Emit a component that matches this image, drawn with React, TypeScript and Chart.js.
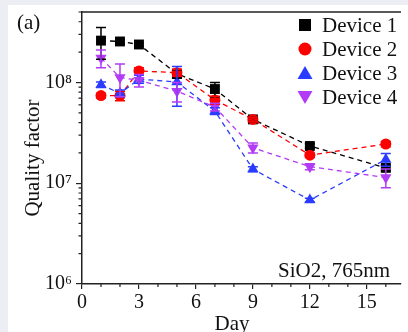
import React, { useEffect, useRef } from 'react';
import { Chart, registerables } from 'chart.js';

Chart.register(...registerables);

const days = [1, 2, 3, 5, 7, 9, 12, 16];
const seriesNames = ['Device 1', 'Device 2', 'Device 3', 'Device 4'];
const device1 = [2.6e8, 2.55e8, 2.38e8, 1.22e8, 8.6e7, 4.3e7, 2.34e7, 1.42e7];
const device2 = [7.4e7, 7.4e7, 1.3e8, 1.25e8, 6.7e7, 4.3e7, 1.9e7, 2.45e7];
const device3 = [9.5e7, 7.8e7, 1.08e8, 1.01e8, 5.2e7, 1.38e7, 6.8e6, 1.72e7];
const device4 = [1.75e8, 1.12e8, 1.05e8, 8.2e7, 5.7e7, 2.25e7, 1.46e7, 1.14e7];
const device1Err = [9e7, 1e7, 8e6, 1.2e7, 1.4e7, 2e6, 1.2e6, 1e6];
const device2Err = [4e6, 8e6, 1e7, 1e7, 6e6, 2e6, 1e6, 1.5e6];
const device3Err = [6e6, 6e6, 1e7, 4.3e7, 4e6, 8e5, 3e5, 2.5e6];
const device4Err = [3.5e7, 4e7, 1.5e7, 1.8e7, 5e6, 2.5e6, 1e6, 2.4e6];
const xTicks = [0, 3, 6, 9, 12, 15];
const xMinorTicks = [1, 2, 4, 5, 7, 8, 10, 11, 13, 14, 16];
const yTicks = [1e6, 1e7, 1e8];
const yTickLabels = ['10\u2076', '10\u2077', '10\u2078'];
const xTitle = 'Day';
const yTitle = 'Quality factor';
const panelLabel = '(a)';
const noteText = 'SiO2, 765nm';

const colors = ['#000000', '#ff0000', '#2a3cff', '#b23cf5'];
const shapes = ['rect', 'circle', 'triangle', 'triangle'];
const rotations = [0, 0, 0, 180];
const radii = [7, 5.5, 6.5, 6.5];
const values = [device1, device2, device3, device4];
const errors = [device1Err, device2Err, device3Err, device4Err];

const FONT = "'Liberation Serif', 'Times New Roman', Times, serif";

function drawMarker(ctx: CanvasRenderingContext2D, kind: number, x: number, y: number) {
  ctx.beginPath();
  if (kind === 0) {
    ctx.rect(x - 6, y - 6, 12, 12);
  } else if (kind === 1) {
    ctx.arc(x, y, 6.5, 0, Math.PI * 2);
  } else if (kind === 2) {
    ctx.moveTo(x, y - 7);
    ctx.lineTo(x + 7.5, y + 6);
    ctx.lineTo(x - 7.5, y + 6);
    ctx.closePath();
  } else {
    ctx.moveTo(x, y + 7);
    ctx.lineTo(x + 7.5, y - 6);
    ctx.lineTo(x - 7.5, y - 6);
    ctx.closePath();
  }
  ctx.fill();
}

const decorPlugin = {
  id: 'decor',
  afterDatasetsDraw(chart: any) {
    const ctx = chart.ctx;
    const xs = chart.scales.x;
    const ys = chart.scales.y;
    ctx.save();
    for (let i = 0; i < values.length; i++) {
      ctx.strokeStyle = colors[i];
      ctx.lineWidth = 1.5;
      ctx.setLineDash([]);
      for (let j = 0; j < days.length; j++) {
        const x = xs.getPixelForValue(days[j]);
        const yt = ys.getPixelForValue(values[i][j] + errors[i][j]);
        const yb = ys.getPixelForValue(values[i][j] - errors[i][j]);
        ctx.beginPath();
        ctx.moveTo(x, yt);
        ctx.lineTo(x, yb);
        ctx.moveTo(x - 5, yt);
        ctx.lineTo(x + 5, yt);
        ctx.moveTo(x - 5, yb);
        ctx.lineTo(x + 5, yb);
        ctx.stroke();
      }
    }
    ctx.restore();
  },
  afterDraw(chart: any) {
    const ctx = chart.ctx;
    const a = chart.chartArea;
    const xs = chart.scales.x;
    const ys = chart.scales.y;
    ctx.save();
    ctx.strokeStyle = '#222';
    ctx.lineWidth = 1.5;
    // top frame
    ctx.beginPath();
    ctx.moveTo(a.left, a.top);
    ctx.lineTo(a.right, a.top);
    ctx.stroke();
    // minor x ticks
    ctx.lineWidth = 1.2;
    ctx.beginPath();
    for (const d of xMinorTicks) {
      const x = xs.getPixelForValue(d);
      ctx.moveTo(x, a.bottom);
      ctx.lineTo(x, a.bottom + 3);
    }
    // minor y ticks
    for (const dec of [1e6, 1e7, 1e8]) {
      for (let m = 2; m <= 9; m++) {
        const v = m * dec;
        if (v > ys.max) break;
        const y = ys.getPixelForValue(v);
        ctx.moveTo(a.left - 3.5, y);
        ctx.lineTo(a.left, y);
      }
    }
    ctx.stroke();

    // legend
    ctx.font = `21px ${FONT}`;
    ctx.textBaseline = 'middle';
    ctx.textAlign = 'left';
    for (let i = 0; i < seriesNames.length; i++) {
      const y = a.top + 13 + i * 24;
      ctx.fillStyle = colors[i];
      drawMarker(ctx, i, a.right - 96, y);
      ctx.fillStyle = '#111';
      ctx.fillText(seriesNames[i], a.right - 79, y + 1);
    }

    // annotation
    ctx.textBaseline = 'alphabetic';
    ctx.textAlign = 'right';
    ctx.fillText(noteText, a.right - 11, a.bottom - 7);

    // panel label
    ctx.textAlign = 'left';
    ctx.fillText(panelLabel, 9, 24);

    // x title
    ctx.textAlign = 'center';
    ctx.fillText(xTitle, 224, 325);

    // y title
    ctx.translate(25, 153);
    ctx.rotate(-Math.PI / 2);
    ctx.textBaseline = 'middle';
    ctx.fillText(yTitle, 0, 0);
    ctx.restore();
  },
};

export default function App() {
  const ref = useRef<HTMLCanvasElement | null>(null);
  useEffect(() => {
    document.body.style.margin = '5px 0 0 8px';
    document.body.style.background = '#eceef3';
    document.documentElement.style.overflow = 'hidden';
    const canvas = ref.current!;
    const chart = new Chart(canvas, {
      type: 'line',
      data: {
        datasets: seriesNames.map((name, i) => ({
          label: name,
          data: days.map((d, j) => ({ x: d, y: values[i][j] })),
          borderColor: colors[i],
          backgroundColor: colors[i],
          borderWidth: 1.3,
          borderDash: [5, 4],
          pointStyle: shapes[i] as any,
          pointRotation: rotations[i],
          pointRadius: radii[i],
          pointBorderWidth: 0,
          pointBackgroundColor: colors[i],
          pointBorderColor: colors[i],
          tension: 0,
          order: 4 - i,
        })),
      },
      options: {
        animation: false,
        responsive: false,
        devicePixelRatio: 1,
        layout: { padding: { top: 7, right: 0, left: 0, bottom: 0 } },
        plugins: { legend: { display: false }, tooltip: { enabled: false } },
        scales: {
          x: {
            type: 'linear',
            min: 0,
            max: 16.8,
            afterBuildTicks: (s: any) => {
              s.ticks = xTicks.map((v) => ({ value: v }));
            },
            afterFit: (s: any) => {
              s.height = 48;
              s.paddingLeft = 0;
              s.paddingRight = 0;
            },
            grid: { drawOnChartArea: false, drawTicks: true, tickLength: 5, color: '#222', lineWidth: 1.2 },
            border: { display: true, color: '#222', width: 1.5 },
            ticks: {
              color: '#111',
              padding: 2,
              font: { family: FONT, size: 20 },
              maxRotation: 0,
              callback: (v: any) => String(v),
            },
          },
          y: {
            type: 'logarithmic',
            min: 1e6,
            max: 5e8,
            afterBuildTicks: (s: any) => {
              s.ticks = yTicks.map((v) => ({ value: v }));
            },
            afterFit: (s: any) => {
              s.width = 74;
              s.paddingTop = 0;
              s.paddingBottom = 0;
            },
            grid: { drawOnChartArea: false, drawTicks: true, tickLength: 6, color: '#222', lineWidth: 1.2 },
            border: { display: true, color: '#222', width: 1.5 },
            ticks: {
              color: '#111',
              padding: 4,
              font: { family: FONT, size: 20 },
              callback: (_v: any, idx: number) => yTickLabels[idx],
            },
          },
        },
      },
      plugins: [decorPlugin],
    });
    return () => chart.destroy();
  }, []);
  return (
    <div style={{ width: 400, height: 327, background: '#ffffff' }}>
      <canvas ref={ref} width={400} height={327} style={{ display: 'block' }} />
    </div>
  );
}
